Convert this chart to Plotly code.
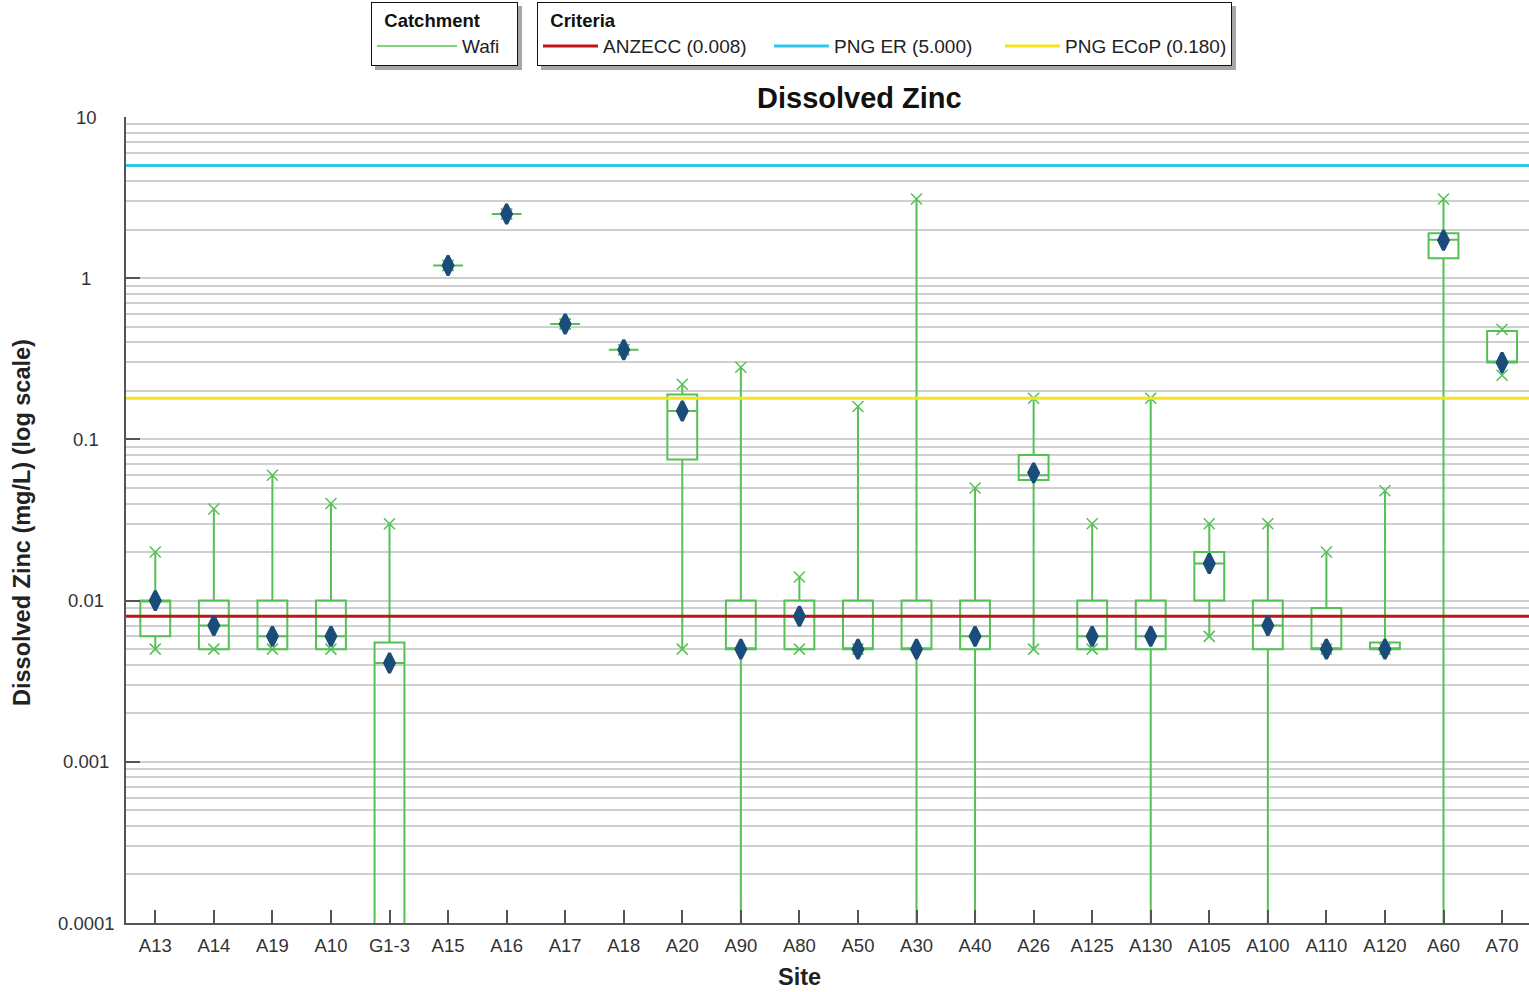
import plotly.graph_objects as go
import numpy as np

# ---- data -------------------------------------------------------------
sites = ["A13", "A14", "A19", "A10", "G1-3", "A15", "A16", "A17", "A18", "A20",
         "A90", "A80", "A50", "A30", "A40", "A26", "A125", "A130", "A105", "A100",
         "A110", "A120", "A60", "A70"]

# 0.00005 stands for results below the plotted range (whisker runs off the axis)
zn_min = [0.005, 0.005, 0.005, 0.005, 0.00005, 1.2, 2.5, 0.52, 0.36, 0.005,
          0.00005, 0.005, 0.005, 0.00005, 0.00005, 0.005, 0.005, 0.00005, 0.006, 0.00005,
          0.005, 0.005, 0.00005, 0.25]
zn_q1 = [0.006, 0.005, 0.005, 0.005, 0.00005, 1.2, 2.5, 0.52, 0.36, 0.075,
         0.005, 0.005, 0.005, 0.005, 0.005, 0.056, 0.005, 0.005, 0.01, 0.005,
         0.005, 0.005, 1.33, 0.3]
zn_median = [0.01, 0.007, 0.006, 0.006, 0.0041, 1.2, 2.5, 0.52, 0.36, 0.15,
             0.005, 0.008, 0.005, 0.005, 0.006, 0.06, 0.006, 0.006, 0.017, 0.007,
             0.005, 0.005, 1.73, 0.3]
zn_q3 = [0.01, 0.01, 0.01, 0.01, 0.0055, 1.2, 2.5, 0.52, 0.36, 0.19,
         0.01, 0.01, 0.01, 0.01, 0.01, 0.08, 0.01, 0.01, 0.02, 0.01,
         0.009, 0.0055, 1.9, 0.47]
zn_max = [0.02, 0.037, 0.06, 0.04, 0.03, 1.2, 2.5, 0.52, 0.36, 0.22,
          0.28, 0.014, 0.16, 3.1, 0.05, 0.18, 0.03, 0.18, 0.03, 0.03,
          0.02, 0.048, 3.1, 0.48]
zn_mean = [0.01, 0.007, 0.006, 0.006, 0.0041, 1.2, 2.5, 0.52, 0.36, 0.15,
           0.005, 0.008, 0.005, 0.005, 0.006, 0.062, 0.006, 0.006, 0.017, 0.007,
           0.005, 0.005, 1.72, 0.3]

criteria_names = ["ANZECC", "PNG ER", "PNG ECoP"]
criteria_values = [0.008, 5.0, 0.18]
criteria_colors = ["#c0151b", "#2fc8ea", "#f4e41c"]

catchment = "Wafi"

y_tick_values = [0.0001, 0.001, 0.01, 0.1, 1, 10]
y_tick_labels = ["0.0001", "0.001", "0.01", "0.1", "1", "10"]

# ---- styling ----------------------------------------------------------
FONT = "Arial, 'Liberation Sans', sans-serif"
GREEN = "#55c155"
NAVY = "#1b4c7a"
GRID = "#cfcfcf"
AXIS = "#555555"

W, H = 1529, 992
M_L, M_R, M_T, M_B = 126, 0, 117, 69
PW, PH = W - M_L - M_R, H - M_T - M_B

xpos = list(range(len(sites)))
x_range = [-0.5, 23.46]


def px_x(p):
    return (p - M_L) / PW


def px_y(p):
    return (H - M_B - p) / PH


fig = go.Figure()

# boxes with whiskers (no caps)
fig.add_trace(go.Box(
    x=xpos, q1=zn_q1, median=zn_median, q3=zn_q3,
    lowerfence=zn_min, upperfence=zn_max,
    width=0.51, whiskerwidth=0, boxpoints=False,
    line=dict(color=GREEN, width=2), fillcolor="rgba(0,0,0,0)",
    showlegend=False, hoverinfo="skip",
))

# min / max markers
fig.add_trace(go.Scatter(
    x=xpos + xpos, y=zn_max + zn_min, mode="markers",
    marker=dict(symbol="x-thin", size=11, color=GREEN, line=dict(color=GREEN, width=1.5)),
    showlegend=False, hoverinfo="skip",
))

# catchment legend entry
fig.add_trace(go.Scatter(
    x=[None], y=[None], mode="lines", name=catchment,
    line=dict(color=GREEN, width=1.5), legend="legend",
))

# guideline criteria
for name, val, col in zip(criteria_names, criteria_values, criteria_colors):
    fig.add_trace(go.Scatter(
        x=x_range, y=[val, val], mode="lines", name=f"{name} ({val:.3f})",
        line=dict(color=col, width=3), legend="legend2", hoverinfo="skip",
    ))

# means
fig.add_trace(go.Scatter(
    x=xpos, y=zn_mean, mode="markers",
    marker=dict(symbol="diamond-tall", size=14, color=NAVY, line=dict(color=NAVY, width=3)),
    showlegend=False,
))

minor_vals = [m * 10.0 ** e for e in range(-4, 1) for m in range(2, 10)]

# legend frames (px): left, right, top, bottom
LEG1 = (371, 518, 2, 66)
LEG2 = (537, 1232, 2, 66)

fig.update_layout(
    width=W, height=H,
    margin=dict(l=M_L, r=M_R, t=M_T, b=M_B),
    paper_bgcolor="white", plot_bgcolor="white",
    font=dict(family=FONT, color="#222222"),
    boxmode="overlay",
    xaxis=dict(
        range=x_range, tickmode="array", tickvals=xpos, ticktext=sites,
        ticks="inside", ticklen=13, tickwidth=1.5, tickcolor=AXIS,
        showline=True, linecolor=AXIS, linewidth=2, showgrid=False, zeroline=False,
        ticklabelstandoff=5,
        tickfont=dict(size=18.5, color="#333333", family=FONT),
    ),
    yaxis=dict(
        type="log", range=[-4, 1], tickmode="array", tickvals=y_tick_values,
        showticklabels=False, ticks="inside", ticklen=14, tickwidth=1.5, tickcolor=AXIS,
        showline=True, linecolor=AXIS, linewidth=2, zeroline=False,
        showgrid=True, gridcolor=GRID, gridwidth=1.5,
        minor=dict(tickmode="array", tickvals=minor_vals, showgrid=True,
                   gridcolor=GRID, gridwidth=1.5, ticks=""),
    ),
    legend=dict(
        title=dict(text="&nbsp;&nbsp;<b>Catchment</b>", side="top",
                   font=dict(size=18.5, color="#111111")),
        orientation="h", x=px_x(LEG1[0]), xanchor="left", y=px_y(LEG1[2]), yanchor="top",
        bordercolor="#111111", borderwidth=1, bgcolor="white",
        itemwidth=80, entrywidth=50, entrywidthmode="pixels",
        font=dict(size=19, color="#222222"),
    ),
    legend2=dict(
        title=dict(text="&nbsp;&nbsp;<b>Criteria</b>", side="top",
                   font=dict(size=18.5, color="#111111")),
        orientation="h", x=px_x(LEG2[0]), xanchor="left", y=px_y(LEG2[2]), yanchor="top",
        bordercolor="#111111", borderwidth=1, bgcolor="white",
        itemwidth=55, entrywidth=161, entrywidthmode="pixels",
        font=dict(size=19, color="#222222"),
    ),
)

# drop shadows behind the two legend frames
shapes = []
for (x0, x1, y0, y1) in (LEG1, LEG2):
    shapes.append(dict(
        type="rect", xref="paper", yref="paper", layer="below",
        x0=px_x(x0 + 4), x1=px_x(x1 + 4), y0=px_y(y0 + 4), y1=px_y(y1 + 4),
        fillcolor="#8a8a8a", line=dict(width=0), opacity=0.75,
    ))
fig.update_layout(shapes=shapes)

annotations = [
    dict(text="<b>Dissolved Zinc</b>", xref="paper", yref="paper",
         x=px_x(859), y=px_y(98), xanchor="center", yanchor="middle",
         showarrow=False, font=dict(size=29, color="#111111")),
    dict(text="<b>Site</b>", xref="paper", yref="paper",
         x=px_x(799), y=px_y(977), xanchor="center", yanchor="middle",
         showarrow=False, font=dict(size=23.5, color="#222222")),
    dict(text="<b>Dissolved Zinc (mg/L) (log scale)</b>", xref="paper", yref="paper",
         x=px_x(22), y=px_y(523), xanchor="center", yanchor="middle", textangle=-90,
         showarrow=False, font=dict(size=23.5, color="#222222")),
]
for v, t in zip(y_tick_values, y_tick_labels):
    annotations.append(dict(
        text=t, xref="paper", yref="y", x=px_x(86), y=np.log10(v),
        xanchor="center", yanchor="middle", showarrow=False,
        font=dict(size=18.5, color="#333333"),
    ))
fig.update_layout(annotations=annotations)

fig.write_html("out.html")
